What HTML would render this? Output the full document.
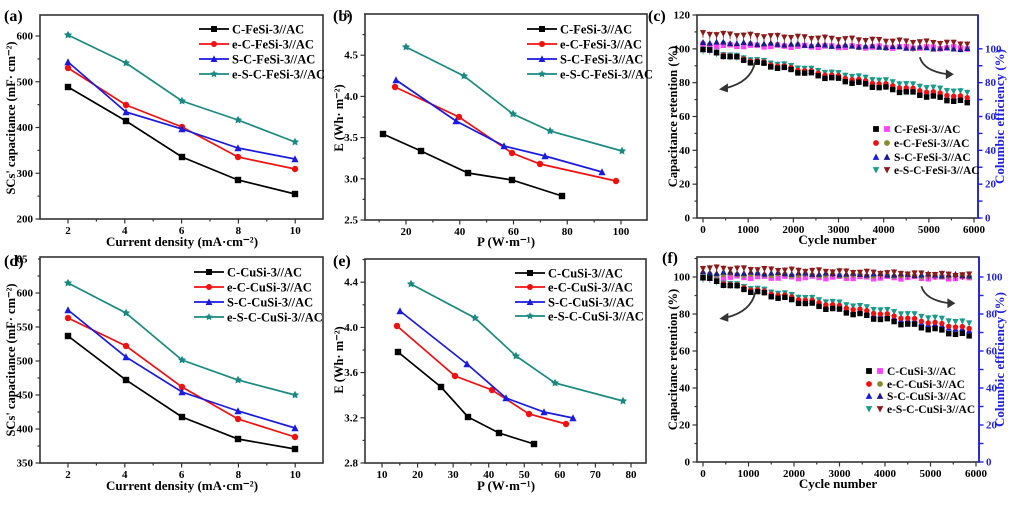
<!DOCTYPE html>
<html><head><meta charset="utf-8"><style>
html,body{margin:0;padding:0;background:#fff}
svg{display:block}
text{font-family:"Liberation Serif",serif;font-weight:bold}
</style></head><body>
<svg id="s" width="1024" height="505" viewBox="0 0 1024 505" xmlns="http://www.w3.org/2000/svg">
<g id="g"></g>
</svg>
<script>
var NS="http://www.w3.org/2000/svg",G=document.getElementById("g");
function el(t,a,txt){var e=document.createElementNS(NS,t);for(var k in a)e.setAttribute(k,a[k]);if(txt!==undefined)e.textContent=txt;G.appendChild(e);return e;}
function txt(x,y,s,size,anchor,fill,rot){var a={x:x,y:y,"font-size":size,"text-anchor":anchor||"middle",fill:fill||"#000"};if(rot)a.transform="rotate(-90 "+x+" "+y+")";el("text",a,s);}
function marker(type,x,y,c,sz){sz=sz||3.2;
 if(type=="sq")el("rect",{x:x-sz,y:y-sz,width:2*sz,height:2*sz,fill:c});
 else if(type=="ci")el("circle",{cx:x,cy:y,r:sz,fill:c});
 else if(type=="tu")el("polygon",{points:(x)+","+(y-sz-0.6)+" "+(x-sz-0.4)+","+(y+sz)+" "+(x+sz+0.4)+","+(y+sz),fill:c});
 else if(type=="td")el("polygon",{points:(x)+","+(y+sz+0.6)+" "+(x-sz-0.4)+","+(y-sz)+" "+(x+sz+0.4)+","+(y-sz),fill:c});
 else if(type=="st"){var p=[];for(var i=0;i<10;i++){var r=i%2?sz*0.65:sz*1.3,a=-Math.PI/2+i*Math.PI/5;p.push((x+r*Math.cos(a)).toFixed(1)+","+(y+r*Math.sin(a)).toFixed(1));}el("polygon",{points:p.join(" "),fill:c});}
}
function box(x0,y0,x1,y1,rc){el("rect",{x:x0,y:y0,width:x1-x0,height:y1-y0,fill:"none",stroke:"#333","stroke-width":1.6});
 if(rc)el("line",{x1:x1,y1:y0,x2:x1,y2:y1,stroke:rc,"stroke-width":1.8});}
function xt(px,y1,lab,minor){el("line",{x1:px,y1:y1,x2:px,y2:y1+(minor?2.5:4.5),stroke:"#333","stroke-width":1.2});if(lab!==undefined)txt(px,y1+15,lab,11);}
function yt(py,x0,lab,minor){el("line",{x1:x0,y1:py,x2:x0-(minor?2.5:4.5),y2:py,stroke:"#333","stroke-width":1.2});if(lab!==undefined)txt(x0-7,py+3.5,lab,11,"end");}
function ytr(py,x1,lab,c){el("line",{x1:x1,y1:py,x2:x1+4.5,y2:py,stroke:c,"stroke-width":1.4});if(lab!==undefined)txt(x1+7,py+3.5,lab,11,"start",c);}
function line(pts,c,m){el("polyline",{points:pts.map(function(p){return p.join(",")}).join(" "),fill:"none",stroke:c,"stroke-width":1.7});pts.forEach(function(p){marker(m,p[0],p[1],c,m=="st"?3.3:3.2);});}
function legend(x,ys,names,cols,ms){for(var i=0;i<4;i++){el("line",{x1:x,y1:ys[i],x2:x+30,y2:ys[i],stroke:cols[i],"stroke-width":1.7});marker(ms[i],x+15,ys[i],cols[i],3);txt(x+33,ys[i]+4.5,names[i],12.5,"start");}}
var COL=["#000","#f01010","#1a1ae0","#1a8a80"],MK=["sq","ci","tu","st"];
// (a)
box(40,15,323,219);
for(var v=2;v<=10;v++)xt(68+(v-2)*28.4,219,v%2==0?v:undefined,v%2);
for(var v=200;v<=650;v+=50){var py=219-(v-200)*0.4575;if(py>=15)yt(py,40,v%100==0?v:undefined,v%100);}
line([[68,87],[126,121],[182,157],[238,180],[295,194]],COL[0],"sq");
line([[68,68],[126,105],[182,127],[238,157],[295,169]],COL[1],"ci");
line([[68,62],[126,112],[182,129],[238,148],[295,159]],COL[2],"tu");
line([[68,35],[126,63],[182,101],[238,120],[295,142]],COL[3],"st");
legend(199,[29,44,59,74],["C-FeSi-3//AC","e-C-FeSi-3//AC","S-C-FeSi-3//AC","e-S-C-FeSi-3//AC"],COL,MK);
txt(182,246,"Current density (mA·cm⁻²)",13);
txt(15,118,"SCs' capacitance (mF· cm⁻²)",12.5,"middle","#000",1);
txt(4,21,"(a)",16,"start");
// (b)
box(365,14,647,220);
for(var v=10;v<=110;v+=10){var px=406+(v-20)*2.6875;if(px>365&&px<647)xt(px,220,v%20==0?v:undefined,v%20);}
for(var v=2.5;v<=5.01;v+=0.25){var py=220-(v-2.5)*82.4;yt(py,365,(Math.round(v*100)%50==0)?v.toFixed(1):undefined,Math.round(v*100)%50);}
line([[383,134],[421,151],[468,173],[512,180],[562,196]],COL[0],"sq");
line([[395,87],[459,117],[512,153],[540,164],[616,181]],COL[1],"ci");
line([[396,80],[456,121],[504,146],[545,156],[602,172]],COL[2],"tu");
line([[406,47],[464,76],[513,114],[550,131],[622,151]],COL[3],"st");
legend(527,[29,44,59,74],["C-FeSi-3//AC","e-C-FeSi-3//AC","S-C-FeSi-3//AC","e-S-C-FeSi-3//AC"],COL,MK);
txt(506,246,"P (W·m⁻¹)",13);
txt(343,118,"E (Wh· m⁻²)",12.5,"middle","#000",1);
el("rect",{x:350,y:4,width:14,height:16,fill:"#fff"});
txt(333,21,"(b)",16,"start");
// (d)
box(40,257,323,463);
for(var v=2;v<=10;v++)xt(68+(v-2)*28.4,463,v%2==0?v:undefined,v%2);
for(var v=350;v<=650;v+=25){var py=463-(v-350)*0.68;if(py>=257)yt(py,40,v%50==0?v:undefined,v%50);}
line([[68,336],[126,380],[182,417],[238,439],[295,449]],COL[0],"sq");
line([[68,318],[126,346],[182,387],[238,419],[295,437]],COL[1],"ci");
line([[68,310],[126,357],[182,392],[238,411],[295,428]],COL[2],"tu");
line([[68,283],[126,313],[182,360],[238,380],[295,395]],COL[3],"st");
legend(194,[272,287,302,317],["C-CuSi-3//AC","e-C-CuSi-3//AC","S-C-CuSi-3//AC","e-S-C-CuSi-3//AC"],COL,MK);
txt(182,490,"Current density (mA·cm⁻²)",13);
txt(15,360,"SCs' capacitance (mF· cm⁻²)",12.5,"middle","#000",1);
el("rect",{x:28,y:252,width:10,height:12,fill:"#fff"});
txt(4,266,"(d)",16,"start");
// (e)
box(365,259,646,463);
for(var v=5;v<=85;v+=5){var px=382+(v-10)*3.557;if(px>365&&px<646)xt(px,463,v%10==0?v:undefined,v%10);}
for(var v=2.8;v<=4.61;v+=0.2){var py=463-(v-2.8)*113;if(py>=259)yt(py,365,(Math.round(v*10)%4==0)?v.toFixed(1):undefined,Math.round(v*10)%4);}
line([[398,352],[441,387],[468,417],[499,433],[534,444]],COL[0],"sq");
line([[397,326],[455,376],[492,390],[529,414],[566,424]],COL[1],"ci");
line([[400,311],[467,364],[506,398],[544,412],[573,418]],COL[2],"tu");
line([[411,284],[475,318],[516,356],[555,383],[623,401]],COL[3],"st");
legend(515,[273,287,302,316],["C-CuSi-3//AC","e-C-CuSi-3//AC","S-C-CuSi-3//AC","e-S-C-CuSi-3//AC"],COL,MK);
txt(506,490,"P (W·m⁻¹)",13);
txt(343,360,"E (Wh· m⁻²)",12.5,"middle","#000",1);
txt(333,266,"(e)",16,"start");
// cycling panels
var C2=["#000","#ff40ff","#f01010","#8a8a30","#1a1ae0","#1a1a8a","#1a9a8a","#8b1a1a"];
function cyc(x0,y0,x1,y1,xs,ys,ymax,ser,leg,lx,lys,names,lab,lbx,lby){
 box(x0,y0,x1,y1,"#2020e0");
 for(var v=0;v<=6000;v+=500){var px=xs(v);xt(px,y1,v%1000==0?v:undefined,v%1000);}
 for(var v=0;v<=ymax;v+=10){var py=ys(v);if(py<y0-0.5)continue;yt(py,x0,v%20==0?v:undefined,v%20);if(v<=100)ytr(py,x1,v%20==0?v:undefined,"#2020e0");}
 ser.forEach(function(s){for(var i=0;i<40;i++){var c=i*150,t=c/5850;var val=s[1]+(s[2]-s[1])*(s[4]?Math.pow(t,0.85):t)+Math.sin(i*1.7+s[1])*s[5];var px=xs(c),py=ys(val);
  if(s[0]=="td"){el("line",{x1:px,y1:py-3,x2:px,y2:py+5,stroke:s[3],"stroke-width":0.8});}
  marker(s[0],px,py,s[3],2.7);}});
 for(var i=0;i<4;i++){marker(leg[i][0],lx,lys[i],leg[i][1],2.9);marker(leg[i][2],lx+11,lys[i],leg[i][3],2.9);txt(lx+18,lys[i]+4,names[i],11.5,"start");}
 txt((x0+x1)/2,y1+26,"Cycle number",13);
 txt(lab[0],(y0+y1)/2,"Capacitance retention (%)",12.5,"middle","#000",1);
 txt(lab[1],(y0+y1)/2,"Columbic efficiency (%)",13,"middle","#2020e0",1);
 var ax=xs(1150),ay=ys(92);el("path",{d:"M"+ax+","+ay+" Q"+(ax-4)+","+(ay+20)+" "+(ax-30)+","+(ay+26),fill:"none",stroke:"#333","stroke-width":1.8});
 el("polygon",{points:(ax-36)+","+(ay+27)+" "+(ax-27)+","+(ay+21)+" "+(ax-27)+","+(ay+30),fill:"#333"});
 var bx=xs(4800),by=ys(95);el("path",{d:"M"+bx+","+by+" Q"+(bx+4)+","+(by+14)+" "+(bx+28)+","+(by+17),fill:"none",stroke:"#333","stroke-width":1.8});
 el("polygon",{points:(bx+34)+","+(by+17)+" "+(bx+26)+","+(by+12)+" "+(bx+26)+","+(by+22),fill:"#333"});
 txt(lbx,lby,"("+["c","f"][lab[2]]+")",16,"start");
}
cyc(697,15,978,218,function(v){return 703+v*0.04517},function(v){return 218-v*1.6917},120,
[["ci",103,100,C2[3],0,0.6],["sq",102,100.5,C2[1],0,0.6],["tu",104,100,C2[5],0,0.5],["td",109,103,C2[7],0,0.6],
 ["td",100,74,C2[6],1,0.6],["tu",100,70.5,C2[4],1,0.6],["ci",100,71,C2[2],1,0.6],["sq",100,68,C2[0],1,0.9]],
[["sq","#000","sq","#ff40ff"],["ci","#f01010","ci","#8a8a30"],["tu","#1a1ae0","tu","#1a1a8a"],["td","#1a9a8a","td","#8b1a1a"]],
876,[129,143,157,170],["C-FeSi-3//AC","e-C-FeSi-3//AC","S-C-FeSi-3//AC","e-S-C-FeSi-3//AC"],[677,1004,0],648,21);
cyc(697,257,979,462,function(v){return 703+v*0.0455},function(v){return 462-v*1.85},110,
[["sq",100,99.5,C2[1],0,0.7],["ci",101.5,100.5,C2[3],0,0.5],["tu",102.5,101,C2[5],0,0.5],["td",105,101,C2[7],0,0.5],
 ["td",100,75,C2[6],1,0.6],["tu",100,71,C2[4],1,0.6],["ci",100,72,C2[2],1,0.6],["sq",100,68,C2[0],1,0.9]],
[["sq","#000","sq","#ff40ff"],["ci","#f01010","ci","#8a8a30"],["tu","#1a1ae0","tu","#1a1a8a"],["td","#1a9a8a","td","#8b1a1a"]],
869,[371,384,396,409],["C-CuSi-3//AC","e-C-CuSi-3//AC","S-C-CuSi-3//AC","e-S-C-CuSi-3//AC"],[677,1004,1],662,263);
</script>
</body></html>
